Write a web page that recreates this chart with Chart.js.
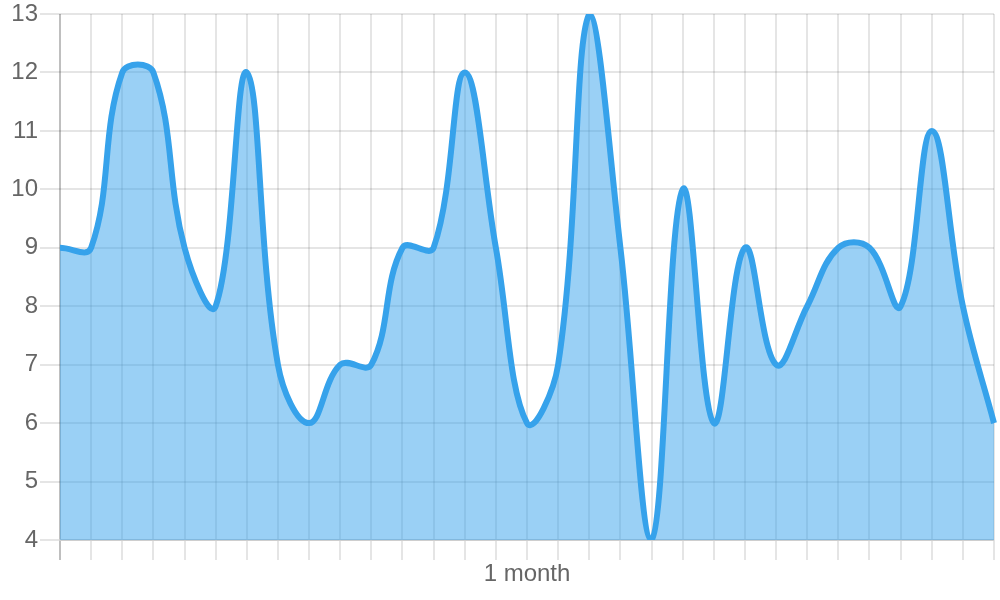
<!DOCTYPE html>
<html>
<head>
<meta charset="utf-8">
<script src="https://cdn.jsdelivr.net/npm/chart.js@4/dist/chart.umd.min.js"></script>
<style>
  html, body { margin: 0; padding: 0; background: #fff; }
  #wrap { width: 1000px; height: 600px; position: relative; }
</style>
</head>
<body>
<div id="wrap"><canvas id="chart"></canvas></div>
<script>
// one label per day, only the middle one is shown
const labels = [
  '', '', '', '', '', '', '', '', '', '', '', '', '', '', '',
  '1 month',
  '', '', '', '', '', '', '', '', '', '', '', '', '', '', ''
];
const values = [9, 9, 12, 12, 9, 8, 12, 7, 6, 7, 7, 9, 9, 12, 9, 6, 7, 13, 9, 4, 10, 6, 9, 7, 8, 9, 9, 8, 11, 8, 6];
const yTicks = [4, 5, 6, 7, 8, 9, 10, 11, 12, 13];

Chart.defaults.font.family = "'Liberation Sans', Arial, sans-serif";
Chart.defaults.font.size = 24;
Chart.defaults.color = '#666';

const data = {
  labels: labels,
  datasets: [{
    data: values,
    borderColor: 'rgb(54, 162, 235)',
    backgroundColor: 'rgba(54, 162, 235, 0.5)',
    borderWidth: 6,
    fill: 'start',
    tension: 0.4,
    pointRadius: 0,
    pointHoverRadius: 0
  }]
};

const config = {
  type: 'line',
  data: data,
  options: {
    responsive: true,
    maintainAspectRatio: false,
    animation: false,
    layout: {
      padding: { right: 6 }
    },
    plugins: {
      legend: { display: false },
      tooltip: { enabled: false }
    },
    scales: {
      x: {
        grid: {
          lineWidth: 2,
          tickLength: 20,
          color: (ctx) => ctx.index === 0 ? 'rgba(0,0,0,0.25)' : 'rgba(0,0,0,0.1)'
        },
        border: { color: 'rgba(0,0,0,0.1)', width: 2 },
        ticks: { autoSkip: false, maxRotation: 0, minRotation: 0, padding: 0 },
        afterFit: (scale) => { scale.height = 60; }
      },
      y: {
        min: yTicks[0],
        max: yTicks[yTicks.length - 1],
        grid: { lineWidth: 2, tickLength: 20, color: 'rgba(0,0,0,0.1)' },
        border: { display: false },
        ticks: { stepSize: 1, padding: 2 },
        afterFit: (scale) => {
          scale.width = 60;
          scale.paddingTop = 14;
          scale.paddingBottom = 0;
        }
      }
    }
  }
};

new Chart(document.getElementById('chart'), config);
</script>
</body>
</html>
